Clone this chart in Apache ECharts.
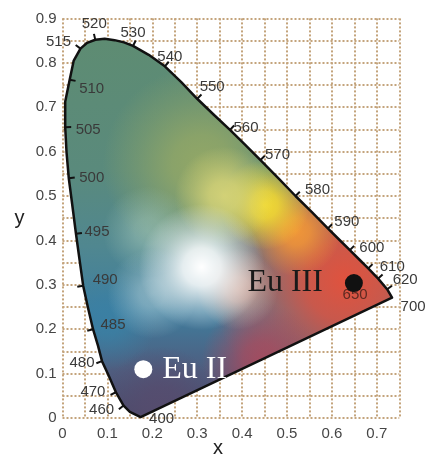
<!DOCTYPE html>
<html><head><meta charset="utf-8">
<script src="https://cdn.jsdelivr.net/npm/echarts@6/dist/echarts.min.js"></script>
<style>html,body{margin:0;padding:0;background:#fff}#c{width:427px;height:455px}</style>
</head><body><div id="c"></div>
<script>
// Spectral locus
const locusWl = [400,450,460,465,470,475,480,482.5,485,487.5,490,492.5,495,497.5,500,502.5,505,507.5,510,512.5,515,517.5,520,522.5,525,527.5,530,535,540,545,550,555,560,565,570,575,580,585,590,595,600,605,610,620,650,700];
const locusX = [0.174,0.150,0.136,0.128,0.119,0.103,0.088,0.079,0.068,0.057,0.046,0.038,0.030,0.022,0.014,0.009,0.006,0.006,0.016,0.025,0.040,0.055,0.073,0.094,0.116,0.137,0.157,0.192,0.228,0.264,0.300,0.337,0.373,0.407,0.441,0.480,0.519,0.556,0.591,0.616,0.640,0.661,0.681,0.703,0.723,0.734];
const locusY = [0.002,0.014,0.028,0.042,0.058,0.095,0.128,0.163,0.200,0.247,0.298,0.356,0.415,0.478,0.540,0.598,0.655,0.712,0.762,0.805,0.832,0.845,0.852,0.854,0.851,0.846,0.838,0.818,0.792,0.757,0.719,0.683,0.649,0.615,0.581,0.541,0.500,0.463,0.427,0.402,0.378,0.357,0.337,0.314,0.290,0.271];
const labeledWl = [400,460,470,480,485,490,495,500,505,510,515,520,530,540,550,560,570,580,590,600,610,620,650,700];
const euNames = ['Eu II','Eu III'];
const euX = [0.180, 0.649];
const euY = [0.110, 0.304];

// styling: label offsets in pixels relative to the locus point
const labelOffset = {400:[21,2],460:[-22,4],470:[-23,0],480:[-20,2],485:[20,-4],490:[22,-6],495:[21,-2],500:[23,0],505:[23,3],510:[22,9],515:[-22,-7],520:[-1,-16],530:[0,-13],540:[5,-9],550:[15,-12],560:[16,-2],570:[17,-5],580:[22,-6],590:[19,-7],600:[22,-2],610:[24,-2],620:[27,1],650:[-32,6],700:[21,9]};
const tickInward = {495:1,500:1,505:1,510:1};
const noTick = {400:1,700:1};

const baseStops = [
  {offset:0, color:'#5e8c72'},
  {offset:0.35, color:'#5a8a7c'},
  {offset:0.55, color:'#508790'},
  {offset:0.72, color:'#3f7e9e'},
  {offset:0.88, color:'#4f5c7e'},
  {offset:1, color:'#4b4868'}
];
const colorLayers = [
  {cx:0.31, cy:0.57, r:0.22, a:0.9, rgb:[152,170,100]},
  {cx:0.63, cy:0.31, r:0.30, a:1, rgb:[224,82,62]},
  {cx:0.44, cy:0.13, r:0.13, a:0.8, rgb:[176,72,90]},
  {cx:0.22, cy:0.03, r:0.13, a:0.9, rgb:[86,76,110]},
  {cx:0.52, cy:0.42, r:0.10, a:1, rgb:[240,150,56]},
  {cx:0.45, cy:0.48, r:0.10, a:1, rgb:[243,219,50]},
  {cx:0.36, cy:0.50, r:0.11, a:0.9, rgb:[218,214,120]},
  {cx:0.10, cy:0.22, r:0.11, a:0.9, rgb:[58,128,164]},
  {cx:0.19, cy:0.42, r:0.10, a:0.5, rgb:[176,208,190]},
  {cx:0.20, cy:0.28, r:0.10, a:0.6, rgb:[176,206,216]},
  {cx:0.39, cy:0.29, r:0.09, a:0.7, rgb:[242,190,170]},
  {cx:0.31, cy:0.34, r:0.14, a:1, rgb:[255,255,255]}
];

function rgba(c,a){return 'rgba('+c[0]+','+c[1]+','+c[2]+','+a+')';}

function renderHorseshoe(params, api) {
  if (params.dataIndexInside !== 0) return null;
  const n = params.dataInsideLength;
  const pts = [], wls = [];
  for (let i = 0; i < n; i++) {
    pts.push(api.coord([api.value(0, i), api.value(1, i)]));
    wls.push(api.value(2, i));
  }
  const P = (x, y) => api.coord([x, y]);
  const S = r => api.size([r, 0])[0];
  const children = [];
  let z2 = 1;
  const top = P(0, 0.86), bot = P(0, 0);
  children.push({type:'polygon', z2:z2++, shape:{points:pts.slice()}, style:{fill:{type:'linear', x:top[0], y:top[1], x2:bot[0], y2:bot[1], global:true, colorStops:baseStops}}});
  colorLayers.forEach(L => {
    const c = P(L.cx, L.cy);
    children.push({type:'polygon', z2:z2++, shape:{points:pts.slice()}, style:{fill:{type:'radial', x:c[0], y:c[1], r:S(L.r), global:true,
      colorStops:[{offset:0,color:rgba(L.rgb,L.a)},{offset:0.3,color:rgba(L.rgb,L.a*0.85)},{offset:0.65,color:rgba(L.rgb,L.a*0.4)},{offset:1,color:rgba(L.rgb,0)}]}}});
  });
  children.push({type:'polygon', z2:95, shape:{points:pts.slice()}, style:{fill:null, stroke:'#111', lineWidth:2.5, lineJoin:'round'}});
  labeledWl.forEach(w => {
    const i = wls.indexOf(w);
    if (i < 0) return;
    const p = pts[i];
    if (!noTick[w]) {
      const a = pts[(i - 1 + n) % n], b = pts[(i + 1) % n];
      let tx = b[0] - a[0], ty = b[1] - a[1];
      const len = Math.hypot(tx, ty) || 1;
      const dir = tickInward[w] ? -1 : 1;
      const nx = ty / len * dir, ny = -tx / len * dir;
      children.push({type:'line', z2:100, shape:{x1:p[0], y1:p[1], x2:p[0] + nx * 6, y2:p[1] + ny * 6}, style:{stroke:'#111', lineWidth:2}});
    }
    const off = labelOffset[w] || [0, 0];
    children.push({type:'text', z2:101, x:p[0] + off[0], y:p[1] + off[1], style:{text:String(w), fill: w === 650 ? '#5e2a22' : '#3a3a3a', font:'15px "Liberation Sans", Arial, sans-serif', align:'center', verticalAlign:'middle'}});
  });
  return {type:'group', children};
}

function tickFmt(v) {
  const r = Math.round(v * 100);
  if (r % 10 !== 0) return '';
  return r === 0 ? '0' : String(r / 100);
}

const chart = echarts.init(document.getElementById('c'));
const gridLine = {show:true, lineStyle:{color:'#c4a47c', type:[2,2], width:2}};
const lab = {color:'#454545', fontSize:15, fontFamily:'"Liberation Sans", Arial, sans-serif', formatter:tickFmt};
const serif = '"Liberation Serif", "Times New Roman", serif';
chart.setOption({
  animation:false,
  grid:{left:62.5, top:18.4, right:27.75, bottom:37, outerBoundsMode:'none', containLabel:false},
  xAxis:{type:'value', z:0, min:0, max:0.75, interval:0.05, axisLine:{show:false}, axisTick:{show:false}, splitLine:gridLine,
    axisLabel:Object.assign({margin:8}, lab),
    name:'x', nameLocation:'middle', nameGap:20, nameMoveOverlap:false, nameTextStyle:{fontSize:20, color:'#222', fontFamily:'"Liberation Sans", Arial, sans-serif', padding:[0,26,0,0]}},
  yAxis:{type:'value', z:0, min:0, max:0.9, interval:0.05, axisLine:{show:false}, axisTick:{show:false}, splitLine:gridLine,
    axisLabel:Object.assign({margin:6}, lab),
    name:'y', nameLocation:'middle', nameGap:38, nameMoveOverlap:false, nameRotate:0, nameTextStyle:{fontSize:20, color:'#222', fontFamily:'"Liberation Sans", Arial, sans-serif'}},
  series:[
    {type:'custom', z:3, silent:true, renderItem:renderHorseshoe, encode:{x:0, y:1}, itemStyle:{opacity:1},
      data:locusX.map((x, i) => [x, locusY[i], locusWl[i]])},
    {type:'scatter', z:5, symbolSize:18, data:[[euX[0], euY[0]]], itemStyle:{color:'#ffffff', opacity:1},
      label:{show:true, formatter:euNames[0], position:'right', distance:10, color:'#ffffff', fontSize:32, fontFamily:serif}},
    {type:'scatter', z:5, symbolSize:18, data:[[euX[1], euY[1]]], itemStyle:{color:'#111111', opacity:1},
      label:{show:true, formatter:euNames[1], position:'left', distance:22, color:'#1a1a1a', fontSize:32, fontFamily:serif}}
  ]
});
</script></body></html>
